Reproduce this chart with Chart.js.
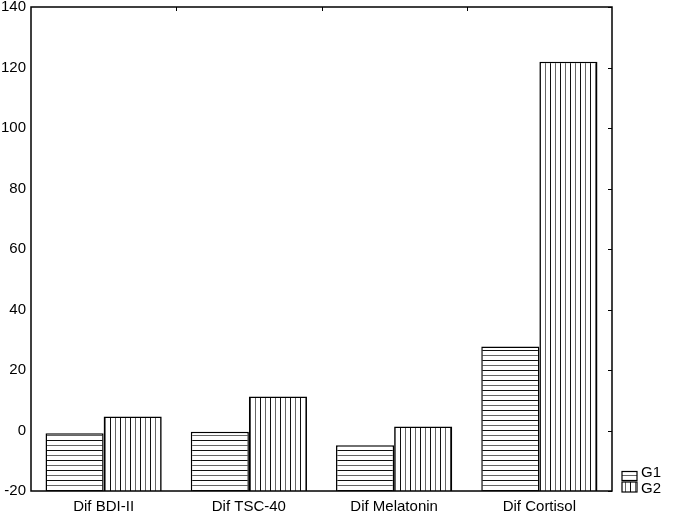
<!DOCTYPE html>
<html>
<head>
<meta charset="utf-8">
<script src="https://cdn.jsdelivr.net/npm/chart.js@4/dist/chart.umd.min.js"></script>
<style>
html,body{margin:0;padding:0;background:#fff;}
#wrap{width:675px;height:519px;}
</style>
</head>
<body>
<div id="wrap"><canvas id="c" width="675" height="519"></canvas></div>
<script>
const categories = ["Dif BDI-II", "Dif TSC-40", "Dif Melatonin", "Dif Cortisol"];
const seriesNames = ["G1", "G2"];
const g1Values = [-0.9, -0.4, -4.9, 27.8];
const g2Values = [4.6, 11.2, 1.3, 121.9];
const yTicks = [-20, 0, 20, 40, 60, 80, 100, 120, 140];

function makePattern(vertical) {
  const p = document.createElement('canvas');
  p.width = 10; p.height = 10;
  const g = p.getContext('2d');
  g.fillStyle = '#fff';
  g.fillRect(0, 0, 10, 10);
  if (vertical) {
    g.fillStyle = '#111'; g.fillRect(0, 0, 1, 10);
    g.fillStyle = '#666'; g.fillRect(5, 0, 1, 10);
  } else {
    g.fillStyle = '#111'; g.fillRect(0, 0, 10, 1);
    g.fillStyle = '#666'; g.fillRect(0, 5, 10, 1);
  }
  return document.getElementById('c').getContext('2d').createPattern(p, 'repeat');
}
const patH = makePattern(false);
const patV = makePattern(true);

const FONT = "'Liberation Sans', Arial, sans-serif";

const framePlugin = {
  id: 'frame',
  afterDatasetsDraw(chart) {
    const ctx = chart.ctx;
    const a = chart.chartArea;
    const x = chart.scales.x, y = chart.scales.y;
    ctx.save();
    ctx.strokeStyle = '#000';
    ctx.lineWidth = 1.5;
    ctx.strokeRect(a.left, a.top, a.right - a.left, a.bottom - a.top);
    ctx.lineWidth = 1;
    ctx.beginPath();
    yTicks.forEach(v => {
      const py = Math.round(y.getPixelForValue(v)) + 0.5;
      ctx.moveTo(a.right, py); ctx.lineTo(a.right - 4, py);
    });
    const half = (x.getPixelForValue(1) - x.getPixelForValue(0)) / 2;
    for (let i = 0; i < categories.length - 1; i++) {
      const px = Math.round(x.getPixelForValue(i) + half) + 0.5;
      ctx.moveTo(px, a.top); ctx.lineTo(px, a.top + 4);
    }
    ctx.stroke();
    // legend
    const pats = [patH, patV];
    const boxes = [[622, 471.5, 15, 9], [622, 482, 15, 10]];
    const textY = [472.5, 488.5];
    ctx.font = "15px " + FONT;
    ctx.textBaseline = 'middle';
    ctx.textAlign = 'left';
    for (let i = 0; i < 2; i++) {
      const b = boxes[i];
      ctx.fillStyle = pats[i];
      ctx.fillRect(b[0], b[1], b[2], b[3]);
      ctx.lineWidth = 1.2;
      ctx.strokeStyle = '#000';
      ctx.strokeRect(b[0], b[1], b[2], b[3]);
      ctx.fillStyle = '#000';
      ctx.fillText(seriesNames[i], 641, textY[i]);
    }
    ctx.restore();
  }
};

new Chart(document.getElementById('c'), {
  type: 'bar',
  data: {
    labels: categories,
    datasets: [
      { label: seriesNames[0], data: g1Values, base: -20, backgroundColor: patH, borderColor: '#000', borderWidth: 1.5 },
      { label: seriesNames[1], data: g2Values, base: -20, backgroundColor: patV, borderColor: '#000', borderWidth: 1.5 }
    ]
  },
  options: {
    responsive: false,
    animation: false,
    events: [],
    layout: { padding: { top: 0, right: 63, left: 0, bottom: 0 } },
    plugins: { legend: { display: false }, tooltip: { enabled: false } },
    datasets: { bar: { categoryPercentage: 0.8, barPercentage: 1.0 } },
    scales: {
      x: {
        grid: { display: false, drawTicks: false },
        border: { display: false },
        ticks: { color: '#000', font: { family: FONT, size: 15, lineHeight: 1 }, padding: 8, maxRotation: 0 },
        afterFit(s) { s.height = 28; s.paddingLeft = 0; s.paddingRight = 0; }
      },
      y: {
        min: -20, max: 140,
        afterBuildTicks(s) { s.ticks = yTicks.map(v => ({ value: v })); },
        grid: { display: false, drawTicks: false },
        border: { display: false },
        ticks: { color: '#000', font: { family: FONT, size: 15, lineHeight: 1 }, padding: 5 },
        afterFit(s) { s.width = 31; s.paddingTop = 7; s.paddingBottom = 0; }
      }
    }
  },
  plugins: [framePlugin]
});
</script>
</body>
</html>
